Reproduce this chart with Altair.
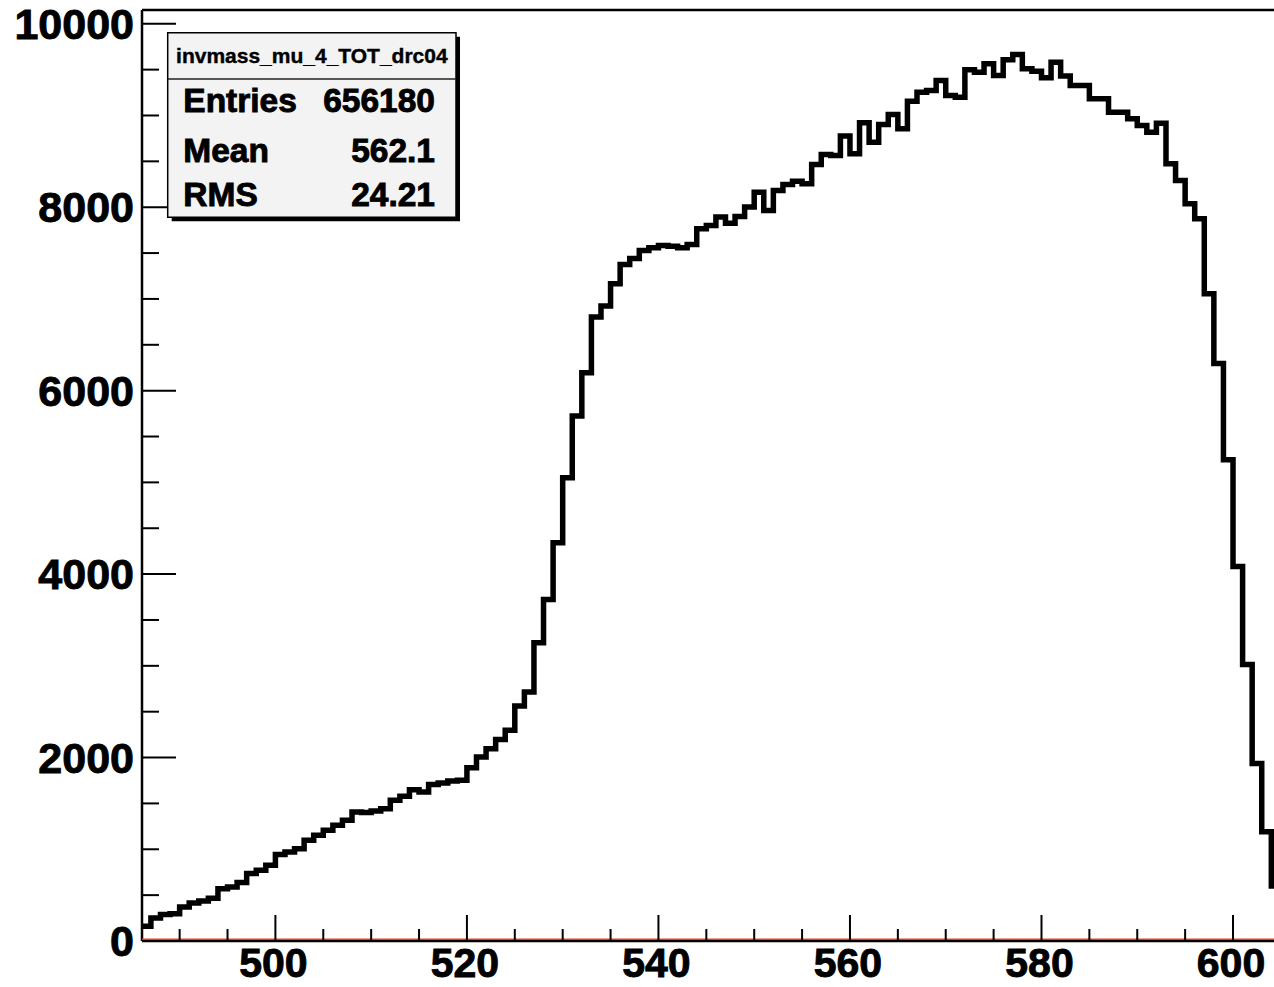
import altair as alt
import pandas as pd

# ---------------- data ----------------
bin_low_edges = list(range(486, 605))
counts = [
    160, 250, 288, 298, 370, 414, 436, 465, 571, 589,          # 486-495
    637, 735, 771, 825, 942, 970, 1007, 1098, 1152, 1207,      # 496-505
    1261, 1316, 1406, 1400, 1417, 1443, 1534, 1577, 1650, 1624,  # 506-515
    1705, 1722, 1744, 1752, 1890, 2006, 2097, 2198, 2297, 2562,  # 516-525
    2714, 3252, 3724, 4342, 5051, 5723, 6196, 6802, 6922, 7165,  # 526-535
    7376, 7440, 7529, 7558, 7583, 7575, 7558, 7594, 7765, 7801,  # 536-545
    7892, 7826, 7899, 8001, 8164, 7965, 8183, 8248, 8284, 8255,  # 546-555
    8466, 8575, 8564, 8775, 8583, 8920, 8709, 8902, 9010, 8855,  # 556-565
    9156, 9254, 9273, 9382, 9218, 9200, 9498, 9472, 9563, 9436,  # 566-575
    9607, 9665, 9509, 9483, 9411, 9581, 9430, 9327, 9327, 9182,  # 576-585
    9182, 9036, 9036, 8964, 8891, 8818, 8916, 8473, 8292, 8038,  # 586-595
    7874, 7057, 6295, 5248, 4084, 3014, 1935, 1191, 600,         # 596-604
]
bin_width = 1

x_major = [500, 520, 540, 560, 580, 600]
x_minor = [v for v in range(490, 605, 5) if v not in x_major]
y_major = [0, 2000, 4000, 6000, 8000, 10000]
y_minor = [v for v in range(500, 10001, 500) if v not in y_major]

stats_title = "invmass_mu_4_TOT_drc04"
stat_labels = ["Entries", "Mean", "RMS"]
stat_values = ["656180", "562.1", "24.21"]

# ---------------- layout ----------------
W, H = 1132, 931
X_DOMAIN = [486.07, 604.28]
Y_DOMAIN = [0, 10150]
FONT = "Liberation Sans"
BOLD = dict(font=FONT, fontWeight="bold", color="black", stroke="black", strokeWidth=0.9)

xs = alt.Scale(domain=X_DOMAIN, nice=False, zero=False)
ys = alt.Scale(domain=Y_DOMAIN, nice=False, zero=False)

hist = pd.DataFrame({
    "x": bin_low_edges + [bin_low_edges[-1] + bin_width],
    "y": counts + [counts[-1]],
})

line = alt.Chart(hist).mark_line(
    interpolate="step-after", color="black", strokeWidth=5.5, clip=True, strokeJoin="miter"
).encode(
    x=alt.X("x:Q", scale=xs, axis=None, title=None),
    y=alt.Y("y:Q", scale=ys, axis=None, title=None),
)

# axis lines
left_axis = alt.Chart(pd.DataFrame({"a": [0]})).mark_rule(color="black", strokeWidth=2.5).encode(
    x=alt.value(0), y=alt.value(0), y2=alt.value(H))
bottom_axis = alt.Chart(pd.DataFrame({"a": [0]})).mark_rule(color="black", strokeWidth=2.5).encode(
    x=alt.value(0), x2=alt.value(W), y=alt.value(H))
top = alt.Chart(pd.DataFrame({"a": [0]})).mark_rule(color="black", strokeWidth=2.5).encode(
    x=alt.value(0), x2=alt.value(W), y=alt.value(0))

# inward ticks
xmaj = alt.Chart(pd.DataFrame({"t": x_major})).mark_rule(color="black", strokeWidth=2).encode(
    x=alt.X("t:Q", scale=xs, axis=None), y=alt.value(H), y2=alt.value(H - 26))
xmin = alt.Chart(pd.DataFrame({"t": x_minor})).mark_rule(color="black", strokeWidth=2).encode(
    x=alt.X("t:Q", scale=xs, axis=None), y=alt.value(H), y2=alt.value(H - 12))
ymaj = alt.Chart(pd.DataFrame({"t": y_major})).mark_rule(color="black", strokeWidth=2).encode(
    y=alt.Y("t:Q", scale=ys, axis=None), x=alt.value(0), x2=alt.value(34))
ymin = alt.Chart(pd.DataFrame({"t": y_minor})).mark_rule(color="black", strokeWidth=2).encode(
    y=alt.Y("t:Q", scale=ys, axis=None), x=alt.value(0), x2=alt.value(17))

# tick labels
xlab = alt.Chart(pd.DataFrame({"t": x_major})).mark_text(
    fontSize=41, align="center", baseline="middle", dx=-2, **BOLD
).encode(x=alt.X("t:Q", scale=xs, axis=None), y=alt.value(H + 24), text=alt.Text("t:Q", format="d"))
ylab = alt.Chart(pd.DataFrame({"t": y_major})).mark_text(
    fontSize=43, align="right", baseline="middle", dy=2, **BOLD
).encode(y=alt.Y("t:Q", scale=ys, axis=None), x=alt.value(-8), text=alt.Text("t:Q", format="d"))

# red zero line
red = alt.Chart(pd.DataFrame({"z": [0]})).mark_rule(color="#ee3b1f", strokeWidth=1.5, yOffset=-1.8).encode(
    y=alt.Y("z:Q", scale=ys, axis=None), x=alt.value(0), x2=alt.value(W))

# stats box
one = pd.DataFrame({"a": [0]})
bx0, bx1, by0, by1 = 25.7, 314, 22.7, 207.3
shadow = alt.Chart(one).mark_rect(color="black").encode(
    x=alt.value(bx0 + 4), x2=alt.value(bx1 + 4), y=alt.value(by0 + 4), y2=alt.value(by1 + 4))
box = alt.Chart(one).mark_rect(fill="#f3f3f3", stroke="black", strokeWidth=1.5).encode(
    x=alt.value(bx0), x2=alt.value(bx1), y=alt.value(by0), y2=alt.value(by1))
divider = alt.Chart(one).mark_rule(color="#222222", strokeWidth=1.5).encode(
    x=alt.value(bx0), x2=alt.value(bx1), y=alt.value(69))
title_txt = alt.Chart(one).mark_text(
    text=stats_title, fontSize=21, align="center", baseline="middle",
    font=FONT, fontWeight="bold", color="black", stroke="black", strokeWidth=0.4
).encode(x=alt.value((bx0 + bx1) / 2), y=alt.value(47))

row_y = [92, 142, 186]
rows = []
for lab, val, yy in zip(stat_labels, stat_values, row_y):
    rows.append(alt.Chart(one).mark_text(
        text=lab, fontSize=33.5, align="left", baseline="middle", **BOLD
    ).encode(x=alt.value(41.3), y=alt.value(yy)))
    rows.append(alt.Chart(one).mark_text(
        text=val, fontSize=33.5, align="right", baseline="middle", **BOLD
    ).encode(x=alt.value(293), y=alt.value(yy)))

chart = alt.layer(
    left_axis, bottom_axis, red, line, xmaj, xmin, ymaj, ymin, top, xlab, ylab,
    shadow, box, divider, title_txt, *rows
).properties(
    width=W, height=H,
    autosize=alt.AutoSizeParams(type="none"),
    padding={"left": 142, "top": 10, "right": 0, "bottom": 46},
    background="white",
).configure_view(strokeWidth=0)

chart.save("out.html", embed_options={"renderer": "svg", "actions": False})
